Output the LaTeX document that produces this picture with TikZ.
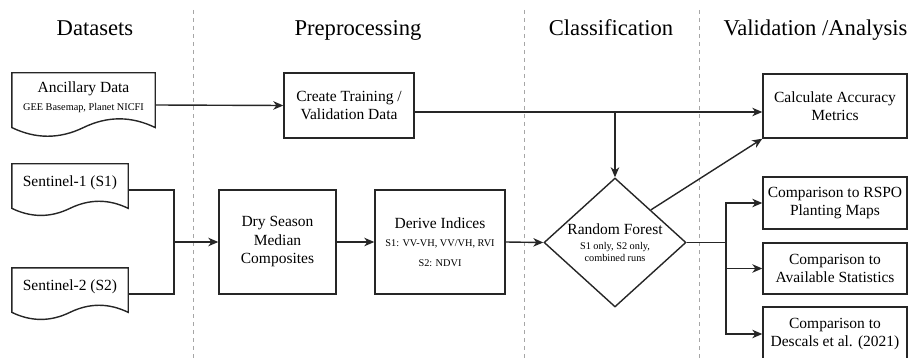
\documentclass[tikz,border=0pt]{standalone}
\usepackage{fontspec}
\setmainfont{Liberation Serif}
\usetikzlibrary{shapes.geometric,arrows.meta,calc}
\newcommand\bigtxt{\fontsize{15.5}{18.5}\selectfont}
\newcommand\smalltxt{\fontsize{10.3}{12}\selectfont}
\newcommand\titletxt{\fontsize{22.6}{27}\selectfont}
\newcommand\docoutline[1]{%
  \draw[boxline] let \p1=(#1.north west), \p2=(#1.south east),
    \n1={\x2-\x1}, \n2={0.3*(\y1-\y2)}, \n3={\y2+0.5*\n2} in
    (\x1,\y1) -- (\x2,\y1) -- (\x2,\n3)
    .. controls (\x2-\n1/6,\n3+0.6*\n2) and (\x2-\n1/3,\n3+0.6*\n2) .. (\x1+\n1/2,\n3)
    .. controls (\x1+\n1/3,\n3-0.6*\n2) and (\x1+\n1/6,\n3-0.6*\n2) .. (\x1,\n3) -- cycle;}
\begin{document}
\begin{tikzpicture}[x=1pt,y=-1pt,
  boxline/.style={draw=black!85, line width=1.4pt},
  procbox/.style={boxline, rectangle, align=center, inner sep=0pt, font=\bigtxt},
  docnode/.style={rectangle, inner sep=0pt},
  doctext/.style={align=center, font=\bigtxt},
  conn/.style={line width=1.4pt, draw=black!85},
  arr/.style={conn, -{Stealth[length=10pt,width=8.5pt,inset=3pt]}},
  sepline/.style={draw=black!35, line width=0.8pt, dash pattern=on 4pt off 4pt},
  title/.style={font=\titletxt, anchor=base}]
\useasboundingbox (0,0) rectangle (912,358);
% separators
\draw[sepline] (193,10) -- (193,358);
\draw[sepline] (524,10) -- (524,358);
\draw[sepline] (699,10) -- (699,358);
% titles
\node[title] (tds) at (95,36) {Datasets};
\node[title] (tpre) at (358,36) {Preprocessing};
\node[title] (tcls) at (611,36) {Classification};
\node[title] (tval) at (815.5,36) {Validation /Analysis};
% documents
\node[docnode, minimum width=143pt, minimum height=64pt] (anc) at (83.5,105) {};
\docoutline{anc}
\node[doctext] (anct) at ($(anc.center)+(0,-8)$) {Ancillary Data\\{\smalltxt GEE Basemap, Planet NICFI}};
\node[docnode, minimum width=116pt, minimum height=52pt] (s1) at (70,190) {};
\docoutline{s1}
\node[doctext] (s1t) at ($(s1.center)+(0,-7)$) {Sentinel-1 (S1)};
\node[docnode, minimum width=116pt, minimum height=52pt] (s2) at (70,294) {};
\docoutline{s2}
\node[doctext] (s2t) at ($(s2.center)+(0,-7)$) {Sentinel-2 (S2)};
% process boxes
\node[procbox, minimum width=130pt, minimum height=65pt] (train) at (349,105.5) {Create Training /\\Validation Data};
\node[procbox, minimum width=144pt, minimum height=64pt] (calc) at (835,106) {Calculate Accuracy\\Metrics};
\node[procbox, minimum width=117pt, minimum height=104pt] (dry) at (277.5,242) {Dry Season\\Median\\Composites};
\node[procbox, minimum width=130pt, minimum height=104pt] (der) at (440,242) {Derive Indices\\{\smalltxt S1: VV-VH, VV/VH, RVI}\\[1pt]{\smalltxt S2: NDVI}};
\node[boxline, diamond, aspect=1.1, minimum width=142pt, minimum height=129pt, inner sep=0pt, align=center, font=\fontsize{15.5}{12}\selectfont] (rf) at (615,242.5) {Random Forest\\[3pt]{\smalltxt S1 only, S2 only,}\\{\smalltxt combined runs}};
\node[procbox, minimum width=144pt, minimum height=52pt] (rspo) at (835,203) {Comparison to RSPO\\Planting Maps};
\node[procbox, minimum width=144pt, minimum height=51pt] (avail) at (835,268.5) {Comparison to\\Available Statistics};
\node[procbox, minimum width=144pt, minimum height=54pt] (desc) at (835,334) {Comparison to\\Descals et al. (2021)};
% junctions
\coordinate (m1) at (174,242);
\coordinate (j1) at (615,112);
\coordinate (m2) at (726,242.5);
% connectors
\draw[arr] (anc.east) -- (train.west);
\draw[conn] (s1.east) -| (m1);
\draw[conn] (s2.east) -| (m1);
\draw[arr] (m1) -- (dry.west);
\draw[arr] (dry.east) -- (der.west);
\draw[arr] (der.east) -- (rf.west);
\draw[arr] (train.east |- j1) -- (calc.west |- j1);
\draw[arr] (j1) -- (rf.north);
\draw[arr] (rf.north east) -- (calc.south west);
\draw[conn] (rf.east) -- (m2);
\draw[arr] (m2) |- (rspo.west);
\draw[arr] (m2) |- (avail.west);
\draw[arr] (m2) |- (desc.west);
\end{tikzpicture}
\end{document}
